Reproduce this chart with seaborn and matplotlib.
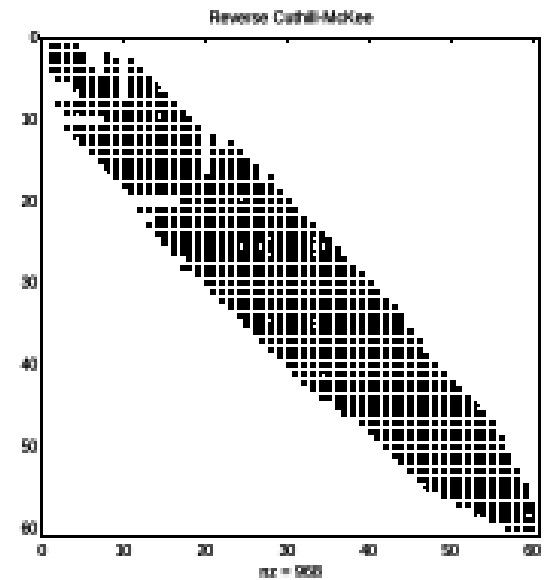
import numpy as np
import pandas as pd
import seaborn as sns
import matplotlib
matplotlib.use('Agg')
import matplotlib.pyplot as plt
from matplotlib.path import Path

# first and last nonzero column of rows 1..60
row_first = [1, 1, 1, 1, 2, 4, 5, 2, 3, 8,
             3, 4, 5, 6, 7, 8, 9, 10, 11, 17,
             12, 14, 13, 14, 15, 16, 18, 17, 19, 20,
             21, 22, 23, 24, 25, 26, 27, 28, 29, 30,
             31, 32, 33, 34, 36, 37, 39, 40, 41, 42,
             43, 44, 45, 46, 47, 49, 51, 53, 55, 57]
row_last = [4, 8, 11, 12, 13, 14, 15, 16, 17, 18,
            19, 21, 23, 24, 25, 26, 28, 28, 29, 30,
            31, 32, 33, 34, 35, 36, 37, 38, 39, 40,
            41, 42, 43, 44, 44, 45, 46, 46, 47, 48,
            49, 50, 51, 52, 53, 54, 55, 55, 56, 56,
            57, 57, 58, 58, 59, 59, 60, 60, 60, 60]
# zeros inside the band (row, column)
band_holes = [(2, 6), (2, 7), (3, 6), (3, 7), (3, 10), (4, 7), (4, 10),
              (5, 10), (6, 10), (7, 10), (12, 20), (13, 20), (13, 22),
              (14, 20), (15, 20), (16, 20), (17, 27)]

tick_values = [0, 10, 20, 30, 40, 50, 60]
title_text = 'Reverse Cuthill-McKee'
nz_text = 'nz = 968'

LOW = 3.037  # the reference is a blow up of a small raster


def pixelate(img, dpi):
    # coarse raster look, hard samples for the marks, averaged for the text
    h, w = img.shape[:2]
    ky = (np.arange(h) / LOW).astype(int)
    kx = (np.arange(w) / LOW).astype(int)
    gray = img[..., :3].mean(axis=2)
    # sample at the exact sub pixel spot of each coarse cell
    fy = (np.unique(ky) + 0.5) * LOW - 0.5
    fx = (np.unique(kx) + 0.5) * LOW - 0.5
    y0 = np.minimum(fy.astype(int), h - 2)
    x0 = np.minimum(fx.astype(int), w - 2)
    ty = (fy - y0)[:, None]
    tx = fx - x0
    across = gray[y0] * (1 - ty) + gray[y0 + 1] * ty
    low = across[:, x0] * (1 - tx) + across[:, x0 + 1] * tx
    dark = low < 0.5
    # a lone white cell is only a corner of four marks
    lone = (np.roll(dark, 1, 0) & np.roll(dark, -1, 0)
            & np.roll(dark, 1, 1) & np.roll(dark, -1, 1))
    dark = dark | lone
    hard = np.where(dark, 0.0, 1.0)[ky][:, kx]
    sampled = np.dstack([hard, hard, hard, np.ones((h, w))])
    starts_y = np.searchsorted(ky, np.unique(ky))
    starts_x = np.searchsorted(kx, np.unique(kx))
    means = np.add.reduceat(np.add.reduceat(img, starts_y, axis=0), starts_x, axis=1)
    counts = np.outer(np.bincount(ky), np.bincount(kx))
    means = means / counts[..., None]
    blurred = means[ky][:, kx]
    blurred[..., :3] = blurred[..., :3] ** 2.0
    inner = np.zeros((h, w), dtype=bool)
    inner[33:540, 38:544] = True
    return np.where(inner[..., None], sampled, blurred), 0, 0


rows = []
cols = []
for r, (a, b) in enumerate(zip(row_first, row_last), start=1):
    for c in range(a, b + 1):
        if (r, c) not in band_holes:
            rows.append(r)
            cols.append(c)
data = pd.DataFrame({'column': cols, 'row': rows})

sns.set_theme(style='white', font='Liberation Sans')

fig = plt.figure(figsize=(5.44, 5.8), dpi=100)
ax = fig.add_axes([41.5 / 544, 44.07 / 580, 498.98 / 544, 498.98 / 580])

# 6.0 x 6.6 px box
mark = Path([(-0.4545, -0.5), (0.4545, -0.5), (0.4545, 0.5), (-0.4545, 0.5), (-0.4545, -0.5)], closed=True)
sns.scatterplot(data=data, x='column', y='row', ax=ax, color='black',
                marker=mark, s=(6.6 * 0.72) ** 2, linewidth=0, legend=False, snap=False)

ax.set_xlim(0, 61)
ax.set_ylim(61, 0)
ax.set_xticks(tick_values)
ax.set_yticks(tick_values)
ax.tick_params(direction='in', top=True, right=True, length=5, width=2.2,
               color='black', labelcolor='black', labelsize=11.5)
ax.tick_params(axis='x', pad=5.5)
ax.tick_params(axis='y', pad=2.5)
for t in ax.xaxis.get_major_ticks() + ax.yaxis.get_major_ticks():
    t.tick2line.set_markersize(3)
for s in ax.spines.values():
    s.set_visible(True)
    s.set_color('black')
    s.set_linewidth(2.2)

ax.set_xlabel(nz_text, fontsize=11.5, color='black', labelpad=4.5)
ax.set_ylabel('')
ax.set_title(title_text, fontsize=11.5, color='black', pad=10)

fig.set_agg_filter(pixelate)
fig.savefig('out.png', dpi=100)
